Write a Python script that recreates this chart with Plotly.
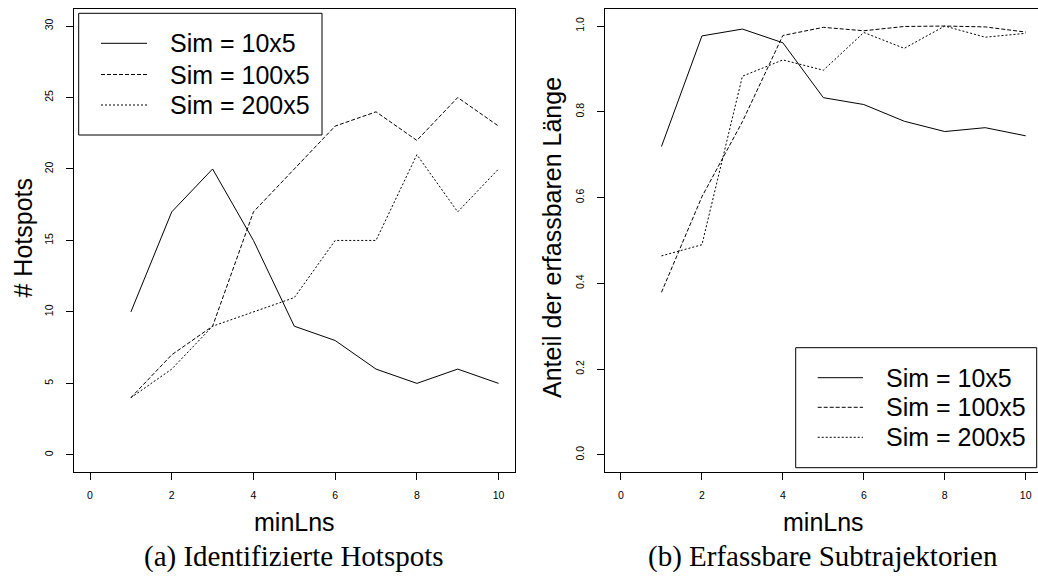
import plotly.graph_objects as go

# minLns values on the x axis
min_lns = [1, 2, 3, 4, 5, 6, 7, 8, 9, 10]

# (a) number of identified hotspots per simulation size
hotspots_10x5 = [10, 17, 20, 15, 9, 8, 6, 5, 6, 5]
hotspots_100x5 = [4, 7, 9, 17, 20, 23, 24, 22, 25, 23]
hotspots_200x5 = [4, 6, 9, 10, 11, 15, 15, 21, 17, 20]

# (b) share of the detectable length per simulation size
share_10x5 = [0.719, 0.977, 0.993, 0.961, 0.833, 0.817, 0.778, 0.754, 0.763, 0.744]
share_100x5 = [0.379, 0.602, 0.777, 0.978, 0.997, 0.989, 0.999, 1.0, 0.998, 0.986]
share_200x5 = [0.464, 0.490, 0.883, 0.921, 0.897, 0.985, 0.948, 1.0, 0.974, 0.983]

series_names = ["Sim = 10x5", "Sim = 100x5", "Sim = 200x5"]
x_ticks = [0, 2, 4, 6, 8, 10]
y_ticks_a = [0, 5, 10, 15, 20, 25, 30]
y_ticks_b = [0.0, 0.2, 0.4, 0.6, 0.8, 1.0]

W, H = 1038, 576
SANS = "Liberation Sans, Arial, Helvetica, sans-serif"
SERIF = "Liberation Serif, Times New Roman, serif"
DASHES = ["solid", "4px,2px", "2px,2px"]


def px_x(p):
    return p / W


def px_y(p):
    return 1 - p / H


fig = go.Figure()

for ys, name, dash in zip([hotspots_10x5, hotspots_100x5, hotspots_200x5], series_names, DASHES):
    fig.add_trace(go.Scatter(x=min_lns, y=ys, mode="lines", name=name,
                             line=dict(color="black", width=1, dash=dash),
                             xaxis="x", yaxis="y", showlegend=False))

for ys, name, dash in zip([share_10x5, share_100x5, share_200x5], series_names, DASHES):
    fig.add_trace(go.Scatter(x=min_lns, y=ys, mode="lines", name=name,
                             line=dict(color="black", width=1, dash=dash),
                             xaxis="x2", yaxis="y2", showlegend=False))

tick_font = dict(family=SANS, size=10.5, color="black")
axis_common = dict(showgrid=False, zeroline=False, showline=True, linecolor="black",
                   linewidth=1, ticks="outside", ticklen=7, tickwidth=1, tickcolor="black",
                   tickfont=tick_font, automargin=False)

y_domain = [px_y(472.0), px_y(8.9)]

fig.update_layout(
    width=W, height=H,
    margin=dict(l=0, r=0, t=0, b=0),
    paper_bgcolor="white", plot_bgcolor="white",
    showlegend=False,
    xaxis=dict(domain=[px_x(73.7), px_x(514.9)], range=[-0.4, 10.4], tickvals=x_ticks,
               mirror=True, anchor="y", ticklabelstandoff=6, **axis_common),
    yaxis=dict(domain=y_domain, range=[-1.2, 31.2], tickvals=y_ticks_a,
               mirror=True, anchor="x", tickangle=-90, ticklabelstandoff=9, **axis_common),
    xaxis2=dict(domain=[px_x(604.8), 1.0], range=[-0.4, 10.304], tickvals=x_ticks,
                mirror=True, anchor="y2", ticklabelstandoff=6, **axis_common),
    yaxis2=dict(domain=y_domain, range=[-0.04, 1.04], tickvals=y_ticks_b, tickformat=".1f",
                mirror=False, anchor="x2", tickangle=-90, ticklabelstandoff=9, **axis_common),
)

annotations = []
shapes = []

# axis titles and sub-figure captions
title_font = dict(family=SANS, size=25, color="black")
cap_font = dict(family=SERIF, size=29, color="black")
for cx, cap in [(294.3, "(a) Identifizierte Hotspots"), (823.4, "(b) Erfassbare Subtrajektorien")]:
    annotations.append(dict(x=px_x(cx), y=px_y(522.0), xref="paper", yref="paper",
                            text="minLns", showarrow=False, font=title_font,
                            xanchor="center", yanchor="middle"))
    annotations.append(dict(x=px_x(cx), y=px_y(556.5), xref="paper", yref="paper",
                            text=cap, showarrow=False, font=cap_font,
                            xanchor="center", yanchor="middle"))
for cx, txt in [(22.5, "# Hotspots"), (552.0, "Anteil der erfassbaren Länge")]:
    annotations.append(dict(x=px_x(cx), y=px_y(238.0), xref="paper", yref="paper",
                            text=txt, showarrow=False, font=title_font, textangle=-90,
                            xanchor="center", yanchor="middle"))


def add_legend(box, line_x, text_x, rows):
    x0, y0, x1, y1 = box
    shapes.append(dict(type="rect", xref="paper", yref="paper",
                       x0=px_x(x0), x1=px_x(x1), y0=px_y(y1), y1=px_y(y0),
                       line=dict(color="black", width=1), fillcolor="white", layer="above"))
    for ry, name, dash in zip(rows, series_names, DASHES):
        shapes.append(dict(type="line", xref="paper", yref="paper",
                           x0=px_x(line_x[0]), x1=px_x(line_x[1]), y0=px_y(ry), y1=px_y(ry),
                           line=dict(color="black", width=1, dash=dash), layer="above"))
        annotations.append(dict(x=px_x(text_x), y=px_y(ry), xref="paper", yref="paper",
                                text=name, showarrow=False, font=title_font,
                                xanchor="left", yanchor="middle"))


add_legend((78.7, 13.3, 322.0, 135.0), (101, 147), 167.5, [43.3, 74.5, 105.0])
add_legend((795.7, 347.7, 1036.7, 467.7), (817.7, 863), 883.5, [377.7, 407.3, 437.3])

fig.update_layout(annotations=annotations, shapes=shapes)

fig.write_html("out.html")
